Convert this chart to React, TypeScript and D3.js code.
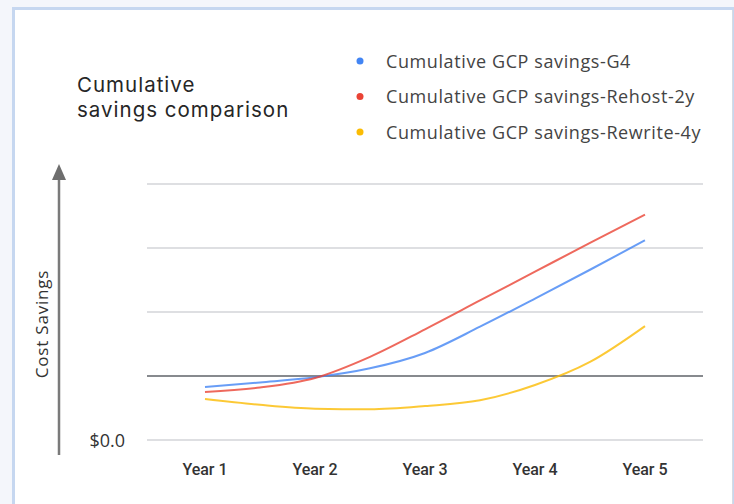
import React, { useEffect, useRef } from "react";
import * as d3 from "d3";

// x positions are in years, values in grid units (0 = $0.0)
const years = [1, 2, 3, 4, 5];
const yearLabels = ["Year 1", "Year 2", "Year 3", "Year 4", "Year 5"];
const sampleX = [1, 1.5, 2, 2.5, 3, 3.5, 4, 4.5, 5];
const g4Values = [0.83, 0.9, 0.98, 1.12, 1.36, 1.77, 2.21, 2.66, 3.12];
const rehostValues = [0.75, 0.82, 0.97, 1.3, 1.73, 2.18, 2.63, 3.08, 3.52];
const rewriteValues = [0.64, 0.55, 0.49, 0.48, 0.53, 0.62, 0.86, 1.22, 1.78];
const gridValues = [0, 1, 2, 3, 4];
const seriesNames = [
  "Cumulative GCP savings-G4",
  "Cumulative GCP savings-Rehost-2y",
  "Cumulative GCP savings-Rewrite-4y",
];
const seriesColors = ["#4285f4", "#ea4335", "#fbbc04"];
const titleLines = ["Cumulative", "savings comparison"];

function drawChart(container: HTMLDivElement) {
  const width = 734,
    height = 504;

  d3.select(container).selectAll("svg").remove();
  const svg = d3
    .select(container)
    .append("svg")
    .attr("width", width)
    .attr("height", height)
    .style("display", "block");

  // page background and white panel
  svg.append("rect").attr("width", width).attr("height", height).style("fill", "#f4f6fb");
  svg
    .append("rect")
    .attr("x", 13.5)
    .attr("y", 8.5)
    .attr("width", 720)
    .attr("height", 500)
    .style("fill", "#ffffff")
    .style("stroke", "#c6d7f0")
    .style("stroke-width", "3px");
  svg
    .append("line")
    .attr("x1", 732.5)
    .attr("x2", 732.5)
    .attr("y1", 10)
    .attr("y2", height)
    .style("stroke", "#d6dbe3")
    .style("stroke-width", "1px");

  const x = d3.scaleLinear().domain([1, 5]).range([205, 645]);
  const y = d3.scaleLinear().domain([0, 4]).range([440, 184]);

  // gridlines
  svg
    .append("g")
    .selectAll("line")
    .data(gridValues)
    .join("line")
    .attr("x1", 147)
    .attr("x2", 703)
    .attr("y1", (d) => y(d))
    .attr("y2", (d) => y(d))
    .style("stroke", (d) => (d === 1 ? "#5f6368" : "#d3d5d8"))
    .style("stroke-width", "1.6px");

  // lines
  const line = d3
    .line<number>()
    .x((d, i) => x(sampleX[i]))
    .y((d) => y(d))
    .curve(d3.curveMonotoneX);

  [g4Values, rehostValues, rewriteValues].forEach((vals, i) => {
    svg
      .append("path")
      .datum(vals)
      .attr("d", line)
      .style("fill", "none")
      .style("stroke", seriesColors[i])
      .style("stroke-opacity", 0.8)
      .style("stroke-width", "2px");
  });

  // x axis labels
  svg
    .append("g")
    .selectAll("text")
    .data(years)
    .join("text")
    .attr("x", (d) => x(d))
    .attr("y", 475)
    .attr("text-anchor", "middle")
    .text((d, i) => yearLabels[i])
    .style("font-family", "Roboto, sans-serif")
    .style("font-weight", 500)
    .style("font-size", "16px")
    .style("fill", "#333333");

  // y axis arrow
  svg
    .append("line")
    .attr("x1", 59)
    .attr("x2", 59)
    .attr("y1", 178)
    .attr("y2", 455)
    .style("stroke", "#7a7a7a")
    .style("stroke-width", "2.5px");
  svg
    .append("path")
    .attr("d", "M59,164 L66,180 L52,180 Z")
    .style("fill", "#6e6e6e");

  svg
    .append("text")
    .attr("transform", "translate(48,324) rotate(-90)")
    .attr("text-anchor", "middle")
    .text("Cost Savings")
    .style("font-family", "'Open Sans', sans-serif")
    .style("font-size", "17px")
    .style("letter-spacing", "0.8px")
    .style("fill", "#333333");

  svg
    .append("text")
    .attr("x", 125)
    .attr("y", y(0) + 7)
    .attr("text-anchor", "end")
    .text("$0.0")
    .style("font-family", "'Open Sans', sans-serif")
    .style("font-size", "18px")
    .style("fill", "#333333");

  // title, two lines
  svg
    .append("g")
    .selectAll("text")
    .data(titleLines)
    .join("text")
    .attr("x", 77)
    .attr("y", (d, i) => 92 + i * 25)
    .text((d) => d)
    .style("font-family", "Inter, sans-serif")
    .style("font-size", "20.5px")
    .style("font-weight", 400)
    .style("letter-spacing", "1px")
    .style("fill", "#262626");

  // legend
  const legend = svg
    .append("g")
    .selectAll("g")
    .data(seriesNames)
    .join("g")
    .attr("transform", (d, i) => "translate(360," + (61 + i * 35.5) + ")");
  legend
    .append("circle")
    .attr("r", 3.5)
    .style("fill", (d, i) => seriesColors[i]);
  legend
    .append("text")
    .attr("x", 26)
    .attr("y", 6.5)
    .text((d) => d)
    .style("font-family", "'Open Sans', sans-serif")
    .style("font-size", "18px")
    .style("letter-spacing", "0.6px")
    .style("fill", "#444444");
}

export default function App() {
  const chartContainer = useRef<HTMLDivElement>(null);
  useEffect(() => {
    if (chartContainer.current) drawChart(chartContainer.current);
  }, []);
  return (
    <div
      ref={chartContainer}
      style={{ position: "absolute", left: 0, top: 0, width: 734, height: 504, overflow: "hidden" }}
    />
  );
}
